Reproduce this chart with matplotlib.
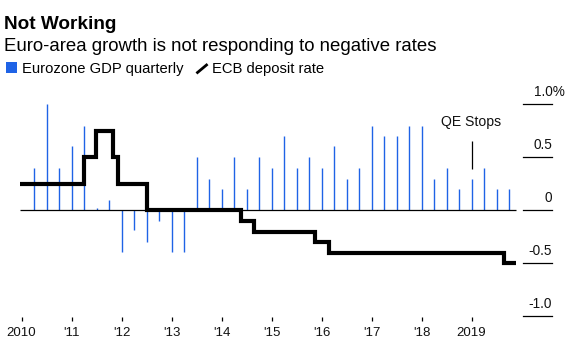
import numpy as np
import matplotlib
matplotlib.use("Agg")
import matplotlib.pyplot as plt
from matplotlib.lines import Line2D
from matplotlib.patches import Rectangle
import matplotlib.transforms as mtransforms

plt.rcParams['font.family'] = ['Liberation Sans', 'DejaVu Sans']

# ---------------- data ----------------
quarters = [f"{y}Q{q}" for y in range(2010, 2020) for q in range(1, 5)][:39]
gdp_qoq = [0.40, 1.00, 0.40, 0.61, 0.80, 0.02, 0.10, -0.39, -0.19, -0.30,
           -0.10, -0.39, -0.39, 0.50, 0.30, 0.20, 0.50, 0.20, 0.50, 0.40,
           0.70, 0.40, 0.50, 0.40, 0.61, 0.30, 0.40, 0.80, 0.70, 0.70,
           0.80, 0.80, 0.30, 0.40, 0.20, 0.30, 0.40, 0.20, 0.20]
rate_dates = [2009.97, 2011.244, 2011.496, 2011.836, 2011.924, 2012.504,
              2014.384, 2014.656, 2015.87, 2016.156, 2019.65, 2019.89]
rate_values = [0.25, 0.50, 0.75, 0.50, 0.25, 0.00,
               -0.10, -0.20, -0.30, -0.40, -0.50, -0.50]
xtick_years = [2010, 2011, 2012, 2013, 2014, 2015, 2016, 2017, 2018, 2019]
xtick_labels = ["2010", "'11", "'12", "'13", "'14", "'15", "'16", "'17", "'18", "2019"]
ytick_values = [1.0, 0.5, 0.0, -0.5, -1.0]
ytick_labels = ["1.0%", "0.5", "0", "-0.5", "-1.0"]
qe_stop_date = 2019.0
title = "Not Working"
subtitle = "Euro-area growth is not responding to negative rates"
legend_labels = ["Eurozone GDP quarterly", "ECB deposit rate"]

# quarter-end positions in decimal years
q_pos = np.array([int(q[:4]) + int(q[-1]) / 4 for q in quarters])

W, H = 570, 351
fig = plt.figure(figsize=(W / 100, H / 100), dpi=100)
ax = fig.add_axes([0, 0, 1, 1])
ax.patch.set_alpha(0)

PX_PER_YEAR = 50.0
X_ORIGIN_PX = 21.5
ZERO_PX = 210.3
PX_PER_UNIT = 106.0
x0 = 2010 - X_ORIGIN_PX / PX_PER_YEAR
ax.set_xlim(x0, x0 + W / PX_PER_YEAR)
ax.set_ylim(-(H - ZERO_PX) / PX_PER_UNIT, ZERO_PX / PX_PER_UNIT)

BLUE = '#1f63e6'
TXT = '#111111'

# bars
ax.vlines(q_pos, 0, gdp_qoq, color=BLUE, lw=1.0, zorder=2)
# zero line
ax.hlines(0, rate_dates[0], rate_dates[-1], color='black', lw=0.9, zorder=3)
# deposit rate
ax.step(rate_dates, rate_values, where='post', color='black', lw=3.0,
        solid_joinstyle='miter', solid_capstyle='butt', zorder=4)

# QE stops annotation
ax.vlines(qe_stop_date, 0.39, 0.65, color='black', lw=0.9, zorder=4)
ax.text(qe_stop_date, 0.83, "QE Stops", ha='center', va='center', fontsize=10.1, color=TXT)

# x axis
for s in ax.spines.values():
    s.set_visible(False)
ax.spines['bottom'].set_position(('data', -(320.7 - ZERO_PX) / PX_PER_UNIT))
ax.set_xticks(xtick_years)
ax.set_xticklabels(xtick_labels, fontsize=9.5, color=TXT)
ax.tick_params(axis='x', direction='in', length=3.0, width=0.9, pad=4.4, color='black')
ax.set_yticks([])

# right-hand value scale
ytrans = ax.get_yaxis_transform()
x_l, x_r = 523 / W, 552 / W
for v, lab in zip(ytick_values, ytick_labels):
    ax.plot([x_l, x_r], [v, v], transform=ytrans, color='black', lw=0.9, clip_on=False)
    extra = 12.8 if lab.endswith('%') else 0.0
    tr = mtransforms.offset_copy(ytrans, fig=fig, x=extra, y=8.5, units='dots')
    ax.text(x_r, v, lab, transform=tr, ha='right', va='baseline', fontsize=9.8, color=TXT)

# titles
def fy(px):
    return 1 - px / H

fig.text(3.6 / W, fy(29.0), title, fontsize=13.7, fontweight='bold', va='baseline', ha='left')
fig.text(4.5 / W, fy(50.7), subtitle, fontsize=13.4, va='baseline', ha='left')

# legend
fig.add_artist(Rectangle((6 / W, fy(72.5)), 10.7 / W, 10.3 / H, transform=fig.transFigure,
                         facecolor=BLUE, edgecolor='none'))
fig.text(22.5 / W, fy(72.7), legend_labels[0], fontsize=10.6, va='baseline', ha='left')
fig.add_artist(Line2D([197.5 / W, 206.5 / W], [fy(72.5), fy(65.0)], transform=fig.transFigure,
                      color='black', lw=2.0))
fig.text(212.3 / W, fy(72.7), legend_labels[1], fontsize=10.6, va='baseline', ha='left')

fig.savefig("out.png", dpi=100, facecolor='white')
